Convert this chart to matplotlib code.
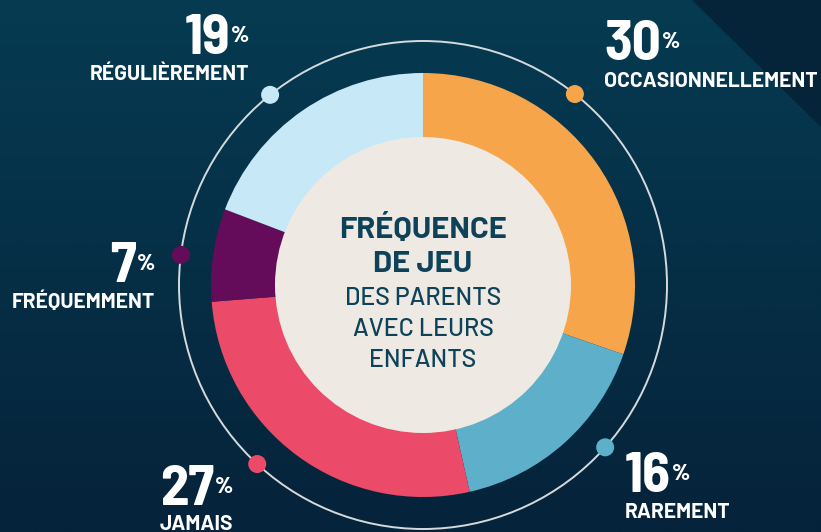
import numpy as np
import matplotlib
matplotlib.use("Agg")
import matplotlib.pyplot as plt
from matplotlib import font_manager as fm
from matplotlib.patches import Circle, Polygon
from matplotlib.colors import LinearSegmentedColormap

# ---------------- data ----------------
categories = ["OCCASIONNELLEMENT", "RAREMENT", "JAMAIS", "FRÉQUEMMENT", "RÉGULIÈREMENT"]
values = [30, 16, 27, 7, 19]
colors = ["#f6a54a", "#5eafc9", "#ec4a69", "#640c5a", "#c6e8f7"]
center_bold = ["FRÉQUENCE", "DE JEU"]
center_regular = ["DES PARENTS", "AVEC LEURS", "ENFANTS"]

# ---------------- fonts ----------------
names = {f.name for f in fm.fontManager.ttflist}

def pick(*cands):
    for c in cands:
        if c in names:
            return [c, "DejaVu Sans"]
    return ["DejaVu Sans"]

FAM_NUM = pick("Barlow Semi Condensed", "Roboto Condensed")
FAM_LAB = pick("Barlow", "Barlow Semi Condensed", "Roboto Condensed")
FAM_CB = pick("Barlow", "Barlow Semi Condensed", "Roboto Condensed")
FAM_CR = pick("Barlow", "Barlow Semi Condensed", "Roboto Condensed")

W, H = 821, 532
DPI = 100
fig = plt.figure(figsize=(W / DPI, H / DPI), dpi=DPI)
ax = fig.add_axes([0, 0, 1, 1])

# background gradient (top lighter teal, bottom darker navy)
grad = np.linspace(0, 1, 256).reshape(-1, 1)
cmap = LinearSegmentedColormap.from_list("bg", ["#053b52", "#05233a"])
ax.imshow(grad, extent=(0, W, 0, H), cmap=cmap, aspect="auto", zorder=0,
          origin="upper")
ax.add_patch(Polygon([(692, H), (W, H), (W, H - 127)], closed=True,
                     facecolor="#052339", edgecolor="none", zorder=0.5))

def Y(y):
    return H - y

cx, cy = 423, Y(285)
R_out, R_in, R_ring = 212, 147, 244

ax.pie(values, colors=colors, radius=R_out, center=(cx, cy), startangle=90,
       counterclock=False, wedgeprops=dict(width=R_out - R_in, linewidth=0),
       frame=True)
ax.set_xlim(0, W)
ax.set_ylim(0, H)
ax.set_aspect("equal")
ax.axis("off")

ax.add_patch(Circle((cx, cy), R_in + 1, facecolor="#eee9e3", edgecolor="none", zorder=3))
ax.add_patch(Circle((cx, cy), R_ring, facecolor="none", edgecolor="#d5dadd",
                    linewidth=1.4, zorder=3))

dot_angles = [38.5, 131.7, 222.8, 277.1, 321.2]
for ang, col in zip(dot_angles, colors):
    t = np.deg2rad(ang)
    ax.add_patch(Circle((cx + R_ring * np.sin(t), cy + R_ring * np.cos(t)), 9,
                        facecolor=col, edgecolor="none", zorder=4))

PT = 72 / DPI
renderer = fig.canvas.get_renderer()

def width_px(s, size, weight, fam):
    t = ax.text(0, 0, s, fontsize=size, fontweight=weight, family=fam)
    w = t.get_window_extent(renderer=renderer).width
    t.remove()
    return w

NUM_SIZE = 57 * PT
PCT_SIZE = 23 * PT
LAB_SIZE = 21 * PT

# anchor x, digit baseline y, label baseline y, alignment
label_pos = [
    (604, 60, 87, "left"),
    (625, 492, 518, "left"),
    (160, 505, 530, "left"),
    (155, 282, 308, "right"),
    (249, 54, 80, "right"),
]
for v, lab, (x, yb, yl, al) in zip(values, categories, label_pos):
    num = f"{v}"
    wn = width_px(num, NUM_SIZE, "bold", FAM_NUM)
    wp = width_px("%", PCT_SIZE, "heavy", FAM_NUM)
    gap = 1
    xn = x if al == "left" else x - wp - gap - wn
    ax.text(xn, Y(yb), num, fontsize=NUM_SIZE, fontweight="bold", family=FAM_NUM,
            color="white", ha="left", va="baseline", zorder=5)
    ax.text(xn + wn + gap, Y(yb - 12), "%", fontsize=PCT_SIZE, fontweight="heavy",
            family=FAM_NUM, color="white", ha="left", va="baseline", zorder=5)
    ax.text(x, Y(yl), lab, fontsize=LAB_SIZE, fontweight="bold", family=FAM_LAB,
            color="white", ha=al, va="baseline", zorder=5)

TXT = "#0e4258"
for i, s in enumerate(center_bold):
    ax.text(cx, Y(238 + 34 * i), s, fontsize=31 * PT, fontweight="bold", family=FAM_CB,
            color=TXT, ha="center", va="baseline", zorder=5)
for i, s in enumerate(center_regular):
    ax.text(cx, Y(305 + 31 * i), s, fontsize=25 * PT, fontweight="medium", family=FAM_CR,
            color=TXT, ha="center", va="baseline", zorder=5)

fig.savefig("out.png", dpi=DPI)
